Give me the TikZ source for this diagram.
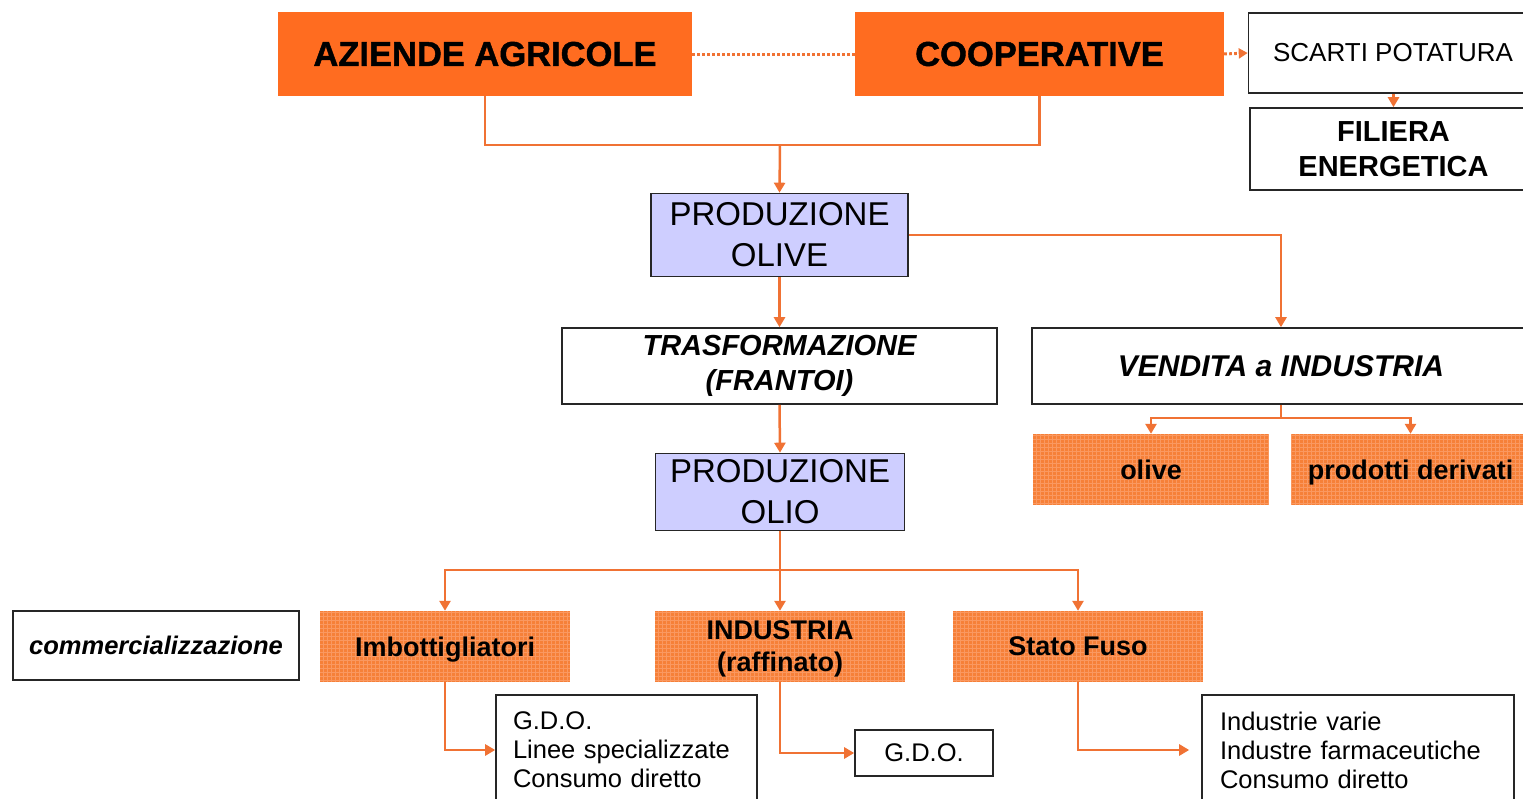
\documentclass[tikz,border=0pt]{standalone}
\usepackage{fontspec}
\setmainfont{Liberation Sans}
\newfontfamily\heavyfont[FakeBold=1.2]{Liberation Sans Bold}
\usetikzlibrary{arrows.meta}
\definecolor{topor}{RGB}{255,108,32}
\definecolor{gridor}{RGB}{246,128,56}
\definecolor{gridln}{RGB}{250,152,96}
\definecolor{lav}{RGB}{206,206,255}
\definecolor{conncol}{RGB}{240,114,52}
\tikzset{
  topbox/.style={fill=topor, draw=none, inner sep=0pt, align=center,
    font=\heavyfont\fontsize{34.5}{40}\selectfont},
  wbox/.style={draw=black!85, line width=1.6pt, fill=white, inner sep=0pt, align=center},
  lavbox/.style={draw=black!85, line width=1.6pt, fill=lav, inner sep=0pt, align=center,
    font=\fontsize{33}{41}\selectfont},
  gridbox/.style={fill=gridor, draw=none, inner sep=0pt, text depth=0pt,
    font=\bfseries\fontsize{27}{32}\selectfont,
    path picture={\draw[gridln, line width=0.7pt] (path picture bounding box.south west) grid[step=4pt] (path picture bounding box.north east);}},
  listbox/.style={draw=black!85, line width=1.6pt, fill=white, inner xsep=17pt, inner ysep=0pt,
    align=left, font=\fontsize{25.5}{29}\selectfont},
  conn/.style={draw=conncol, line width=2.5pt},
  arr/.style={conn, -{Triangle[length=10pt,width=11pt]}},
  dotln/.style={draw=conncol, line width=3pt, dash pattern=on 2.6pt off 2.4pt}
}
\begin{document}
\begin{tikzpicture}[x=1pt,y=-1pt]
\useasboundingbox (0,0) rectangle (1523,798);
\clip (0,0) rectangle (1523,798);
\fill[white] (0,0) rectangle (1523,798);

% top row
\node[topbox, minimum width=414pt, minimum height=84pt] (az) at (485,54) {AZIENDE AGRICOLE};
\node[topbox, minimum width=369pt, minimum height=84pt] (coop) at (1039.5,54) {COOPERATIVE};
\node[wbox, minimum width=289pt, minimum height=80pt, font=\fontsize{26}{30}\selectfont] (sc) at (1393,53) {SCARTI POTATURA};
\node[wbox, minimum width=287pt, minimum height=82pt, font=\bfseries\fontsize{29}{35}\selectfont] (fe) at (1393.5,149) {FILIERA\\ENERGETICA};

% middle
\node[lavbox, minimum width=257pt, minimum height=83pt] (po) at (779.5,235) {PRODUZIONE\\OLIVE};
\node[wbox, minimum width=435pt, minimum height=76pt, font=\bfseries\itshape\fontsize{29}{35}\selectfont] (tr) at (779.5,366) {TRASFORMAZIONE\\(FRANTOI)};
\node[wbox, minimum width=498pt, minimum height=76pt, font=\bfseries\itshape\fontsize{30}{35}\selectfont] (ve) at (1281,366) {VENDITA a INDUSTRIA};
\node[gridbox, minimum width=236pt, minimum height=71pt] (ol) at (1151,469.5) {olive};
\node[gridbox, minimum width=239pt, minimum height=71pt] (pd) at (1410.5,469.5) {prodotti derivati};
\node[lavbox, minimum width=249pt, minimum height=77pt] (oo) at (780,492) {PRODUZIONE\\OLIO};

% lower row
\node[wbox, minimum width=286pt, minimum height=69pt, font=\bfseries\itshape\fontsize{25.5}{30}\selectfont] (cm) at (156,645.5) {commercializzazione};
\node[gridbox, minimum width=250pt, minimum height=71pt] (im) at (445,646.5) {Imbottigliatori};
\node[gridbox, minimum width=250pt, minimum height=71pt, align=center] (in) at (780,646.5) {INDUSTRIA\\(raffinato)};
\node[gridbox, minimum width=250pt, minimum height=71pt] (sf) at (1078,646.5) {Stato Fuso};

\node[listbox, minimum width=261pt, minimum height=110pt, text width=227pt] (g1) at (626.5,750) {G.D.O.\\Linee specializzate\\Consumo diretto};
\node[wbox, minimum width=138pt, minimum height=46pt, font=\fontsize{25.5}{29}\selectfont] (g2) at (924,753) {G.D.O.};
\node[listbox, minimum width=312pt, minimum height=110pt, text width=276pt, inner xsep=18pt] (g3) at (1358,750) {Industrie varie\\Industre farmaceutiche\\Consumo diretto};

% connectors
\coordinate (j1) at (780,145);
\coordinate (j2) at (1281,418);
\coordinate (j3) at (780,570);

\draw[dotln] (az.east) -- (coop.west);
\draw[dotln, -{Triangle[length=9pt,width=10pt]}] (coop.east) -- (sc.west);
\draw[arr] (sc.south -| fe.north) -- (fe.north);

\draw[conn] (az.south) |- (j1) -| (coop.south);
\draw[arr] (j1) -- (po.north);
\draw[arr] (po.east) -| (ve.north);
\draw[arr] (po.south) -- (tr.north);
\draw[arr] (tr.south) -- (oo.north);

\draw[conn] (ve.south) -- (j2);
\draw[arr] (j2) -| (ol.north);
\draw[arr] (j2) -| (pd.north);

\draw[conn] (oo.south) -- (j3);
\draw[arr] (j3) -| (im.north);
\draw[arr] (j3) -- (in.north);
\draw[arr] (j3) -| (sf.north);

\draw[arr] (im.south) |- (g1.west);
\draw[arr] (in.south) |- (g2.west);
\draw[arr, shorten >=12pt] (sf.south) |- (g3.west);
\end{tikzpicture}
\end{document}
